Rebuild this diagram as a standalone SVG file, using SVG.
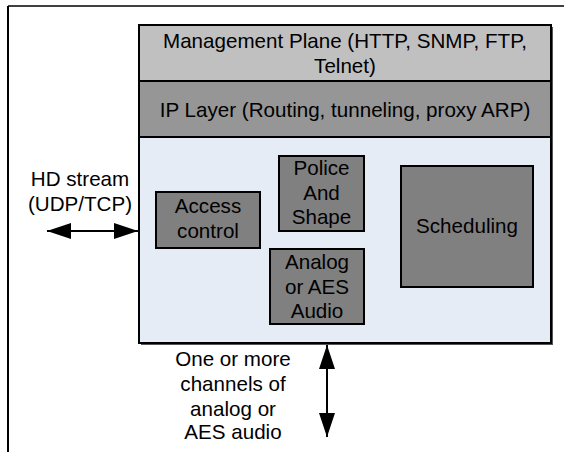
<svg xmlns="http://www.w3.org/2000/svg" width="564" height="452" viewBox="0 0 564 452">
<style>
text{font-family:"Liberation Sans",Arial,sans-serif;font-size:20.6px;fill:#000;text-anchor:middle}
.box{stroke:#000;stroke-width:2}
.node{fill:#808080;stroke:#000;stroke-width:2}
.conn{stroke:#000;stroke-width:2;fill:none}
</style>
<defs>
<marker id="ah" viewBox="0 0 24 16" markerWidth="24" markerHeight="16" refX="24" refY="8" orient="auto-start-reverse" markerUnits="userSpaceOnUse">
<path d="M0,0 L24,8 L0,16 z" fill="#000"/>
</marker>
</defs>
<rect width="564" height="452" fill="#fff"/>
<g id="frame">
<line x1="8" y1="6" x2="564" y2="6" stroke="#000" stroke-width="1.5"/>
<line x1="8" y1="6" x2="8" y2="452" stroke="#000" stroke-width="2"/>
</g>
<g id="device">
<rect x="141" y="27" width="412" height="318" fill="#555"/>
<rect class="box" x="139" y="137" width="412" height="206" fill="#e6ecf6"/>
</g>
<g id="mgmt">
<rect class="box" x="139" y="25" width="412" height="56" fill="#c0c0c0"/>
<text x="345" y="48">Management Plane (HTTP, SNMP, FTP,</text>
<text x="345" y="73">Telnet)</text>
</g>
<g id="ip">
<rect class="box" x="139" y="81" width="412" height="56" fill="#969696"/>
<text x="345" y="117">IP Layer (Routing, tunneling, proxy ARP)</text>
</g>
<g id="access">
<rect class="node" x="156" y="192" width="104" height="56"/>
<text x="208" y="213">Access</text>
<text x="208" y="238">control</text>
</g>
<g id="police">
<rect class="node" x="279" y="156" width="85" height="75"/>
<text x="321.5" y="175">Police</text>
<text x="321.5" y="200">And</text>
<text x="321.5" y="224">Shape</text>
</g>
<g id="analog">
<rect class="node" x="270" y="249" width="94" height="75"/>
<text x="317" y="269">Analog</text>
<text x="317" y="294">or AES</text>
<text x="317" y="318">Audio</text>
</g>
<g id="scheduling">
<rect class="node" x="401" y="166" width="132" height="121"/>
<text x="467" y="233">Scheduling</text>
</g>
<g id="connectors">
<line class="conn" x1="47" y1="231" x2="138" y2="231" marker-start="url(#ah)" marker-end="url(#ah)"/>
<line class="conn" x1="327" y1="345" x2="327" y2="437" marker-start="url(#ah)" marker-end="url(#ah)"/>
</g>
<g id="labels">
<text x="80" y="186">HD stream</text>
<text x="80" y="211">(UDP/TCP)</text>
<text x="233" y="366">One or more</text>
<text x="233" y="391">channels of</text>
<text x="233" y="416">analog or</text>
<text x="233" y="439">AES audio</text>
</g>
</svg>
